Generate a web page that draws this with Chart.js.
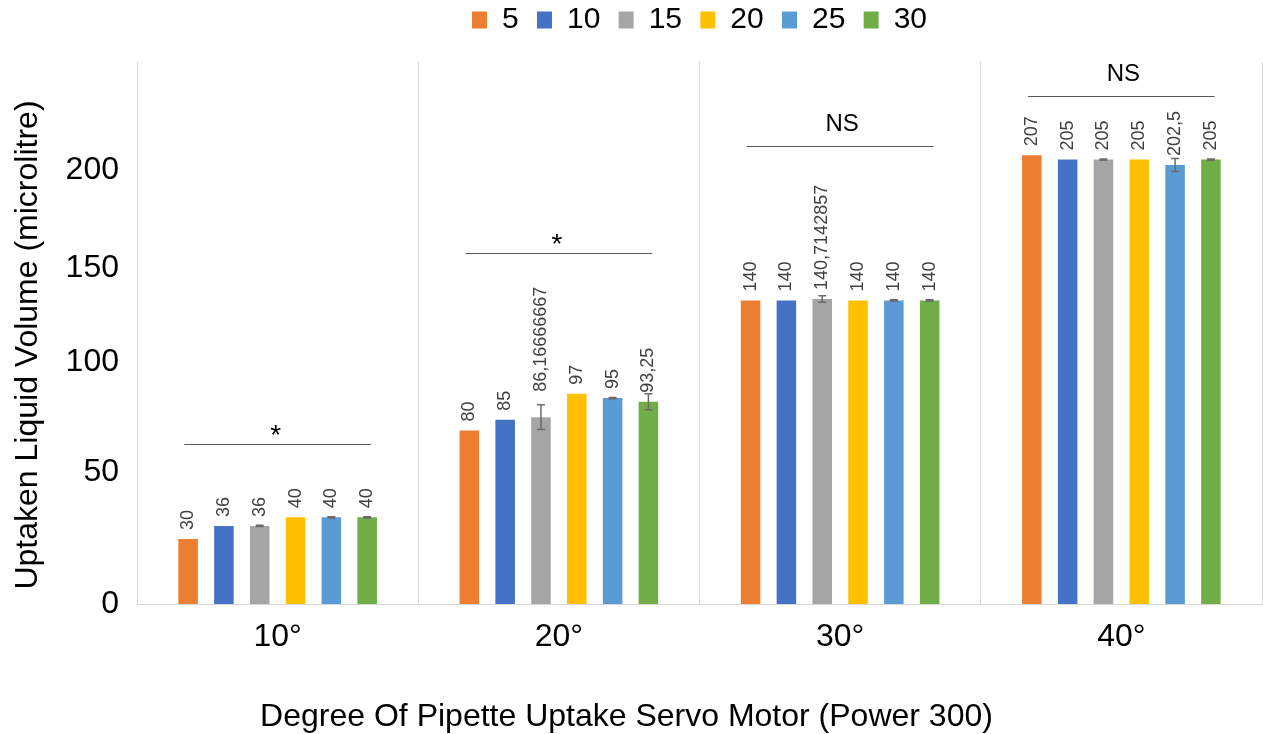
<!DOCTYPE html>
<html>
<head>
<meta charset="utf-8">
<script src="https://cdn.jsdelivr.net/npm/chart.js@4.4.1/dist/chart.umd.min.js"></script>
<style>
  html, body { margin: 0; padding: 0; background: #ffffff; }
  #wrap { width: 1263px; height: 734px; }
</style>
</head>
<body>
<div id="wrap"><canvas id="c" width="1263" height="734"></canvas></div>
<script>
// ---- data ----
const categories = ['10°', '20°', '30°', '40°'];
const seriesNames = ['5', '10', '15', '20', '25', '30'];
const s5  = [30, 80, 140, 207];
const s10 = [36, 85, 140, 205];
const s15 = [36, 86.16666667, 140.7142857, 205];
const s20 = [40, 97, 140, 205];
const s25 = [40, 95, 140, 202.5];
const s30 = [40, 93.25, 140, 205];
const e5  = [0, 0, 0, 0];
const e10 = [0, 0, 0, 0];
const e15 = [0.3, 5.7, 1.5, 0.3];
const e20 = [0, 0, 0, 0];
const e25 = [0.3, 0.3, 0.3, 3];
const e30 = [0.3, 3.7, 0.3, 0.3];
const yTickValues = [0, 61, 111.5, 155, 200];
const yTickLabels = ['0', '50', '100', '150', '200'];
const sigLabels = ['*', '*', 'NS', 'NS'];
const sigLevels = [73.8, 161.9, 211.3, 234.3];
const yAxisTitle = 'Uptaken Liquid Volume (microlitre)';
const xAxisTitle = 'Degree Of Pipette Uptake Servo Motor (Power 300)';

const seriesValues = [s5, s10, s15, s20, s25, s30];
const seriesErrors = [e5, e10, e15, e20, e25, e30];
const colors = ['#ED7D31', '#4472C4', '#A5A5A5', '#FFC000', '#5B9BD5', '#70AD47'];
const FONT = '"Liberation Sans", Arial, sans-serif';

Chart.defaults.font.family = FONT;
Chart.defaults.color = '#000000';

const overlay = {
  id: 'overlay',
  afterDatasetsDraw(chart) {
    const ctx = chart.ctx;
    const y = chart.scales.y;
    // error bars
    ctx.save();
    ctx.strokeStyle = '#6b6b6b';
    ctx.lineWidth = 1.5;
    chart.data.datasets.forEach((ds, i) => {
      const meta = chart.getDatasetMeta(i);
      meta.data.forEach((el, j) => {
        const v = ds.data[j], e = seriesErrors[i][j];
        if (!e) return;
        const yt = y.getPixelForValue(v + e), yb = y.getPixelForValue(v - e);
        ctx.beginPath();
        ctx.moveTo(el.x, yt); ctx.lineTo(el.x, yb);
        ctx.moveTo(el.x - 4, yt); ctx.lineTo(el.x + 4, yt);
        ctx.moveTo(el.x - 4, yb); ctx.lineTo(el.x + 4, yb);
        ctx.stroke();
      });
    });
    ctx.restore();
    // data labels
    ctx.save();
    ctx.fillStyle = '#404040';
    ctx.font = '18px ' + FONT;
    ctx.textAlign = 'left';
    ctx.textBaseline = 'middle';
    chart.data.datasets.forEach((ds, i) => {
      const meta = chart.getDatasetMeta(i);
      meta.data.forEach((el, j) => {
        const v = ds.data[j], e = seriesErrors[i][j];
        let base = el.y - 9;
        if (e > 5) base = Math.min(base, y.getPixelForValue(v + e) - 13);
        ctx.save();
        ctx.translate(el.x, base);
        ctx.rotate(-Math.PI / 2);
        ctx.fillText(String(v).replace('.', ','), 0, 0);
        ctx.restore();
      });
    });
    ctx.restore();
    // significance lines
    ctx.save();
    const first = chart.getDatasetMeta(0), last = chart.getDatasetMeta(chart.data.datasets.length - 1);
    categories.forEach((c, j) => {
      const a = first.data[j], b = last.data[j];
      const x0 = a.x - a.width / 2 + 6, x1 = b.x + b.width / 2 - 6;
      const ly = Math.round(y.getPixelForValue(sigLevels[j])) + 0.5;
      ctx.strokeStyle = '#595959';
      ctx.lineWidth = 1;
      ctx.beginPath(); ctx.moveTo(x0, ly); ctx.lineTo(x1, ly); ctx.stroke();
      ctx.fillStyle = '#000000';
      ctx.textAlign = 'center';
      ctx.textBaseline = 'middle';
      const cx = (x0 + x1) / 2;
      if (sigLabels[j] === '*') {
        ctx.font = '28px ' + FONT;
        ctx.fillText(sigLabels[j], cx - 2, ly - 8);
      } else {
        ctx.font = '24px ' + FONT;
        ctx.fillText(sigLabels[j], cx + 2, ly - 22);
      }
    });
    ctx.restore();
  },
  afterDraw(chart) {
    const ctx = chart.ctx;
    ctx.save();
    ctx.fillStyle = '#000000';
    ctx.font = '32px ' + FONT;
    ctx.textAlign = 'center';
    ctx.textBaseline = 'middle';
    ctx.fillText(xAxisTitle, chart.width / 2 - 5, 717);
    ctx.translate(28, 345);
    ctx.rotate(-Math.PI / 2);
    ctx.fillText(yAxisTitle, 0, 0);
    ctx.restore();
  }
};

new Chart(document.getElementById('c'), {
  type: 'bar',
  data: {
    labels: categories,
    datasets: seriesNames.map((n, i) => ({
      label: n,
      data: seriesValues[i],
      backgroundColor: colors[i],
      borderWidth: 0,
      categoryPercentage: 0.764,
      barPercentage: 0.545
    }))
  },
  options: {
    responsive: false,
    animation: false,
    devicePixelRatio: 1,
    layout: { padding: { top: -13.3, right: 1, bottom: 0, left: 0 } },
    plugins: {
      legend: {
        position: 'top',
        fullSize: false,
        labels: {
          boxWidth: 15,
          boxHeight: 17,
          padding: 18.3,
          color: '#000000',
          font: { size: 30 }
        }
      },
      title: {
        display: true,
        text: '',
        weight: 0,
        fullSize: false,
        padding: { top: 8.5, bottom: 8.5 },
        font: { size: 1, lineHeight: 0 }
      },
      tooltip: { enabled: false }
    },
    scales: {
      x: {
        grid: { display: true, color: '#d9d9d9', lineWidth: 1, drawTicks: false, offset: true },
        border: { display: true, color: '#d9d9d9', width: 1 },
        ticks: { padding: 14, color: '#000000', font: { size: 32 }, maxRotation: 0 },
        afterFit: (s) => { s.height = 130; }
      },
      y: {
        min: 0,
        max: 250,
        grid: { display: false, drawTicks: false },
        border: { display: false },
        afterBuildTicks: (s) => { s.ticks = yTickValues.map(v => ({ value: v })); },
        ticks: {
          padding: 18,
          color: '#000000',
          font: { size: 32 },
          callback: (v, i) => yTickLabels[i]
        },
        afterFit: (s) => { s.width = 137; }
      }
    }
  },
  plugins: [overlay]
});
</script>
</body>
</html>
